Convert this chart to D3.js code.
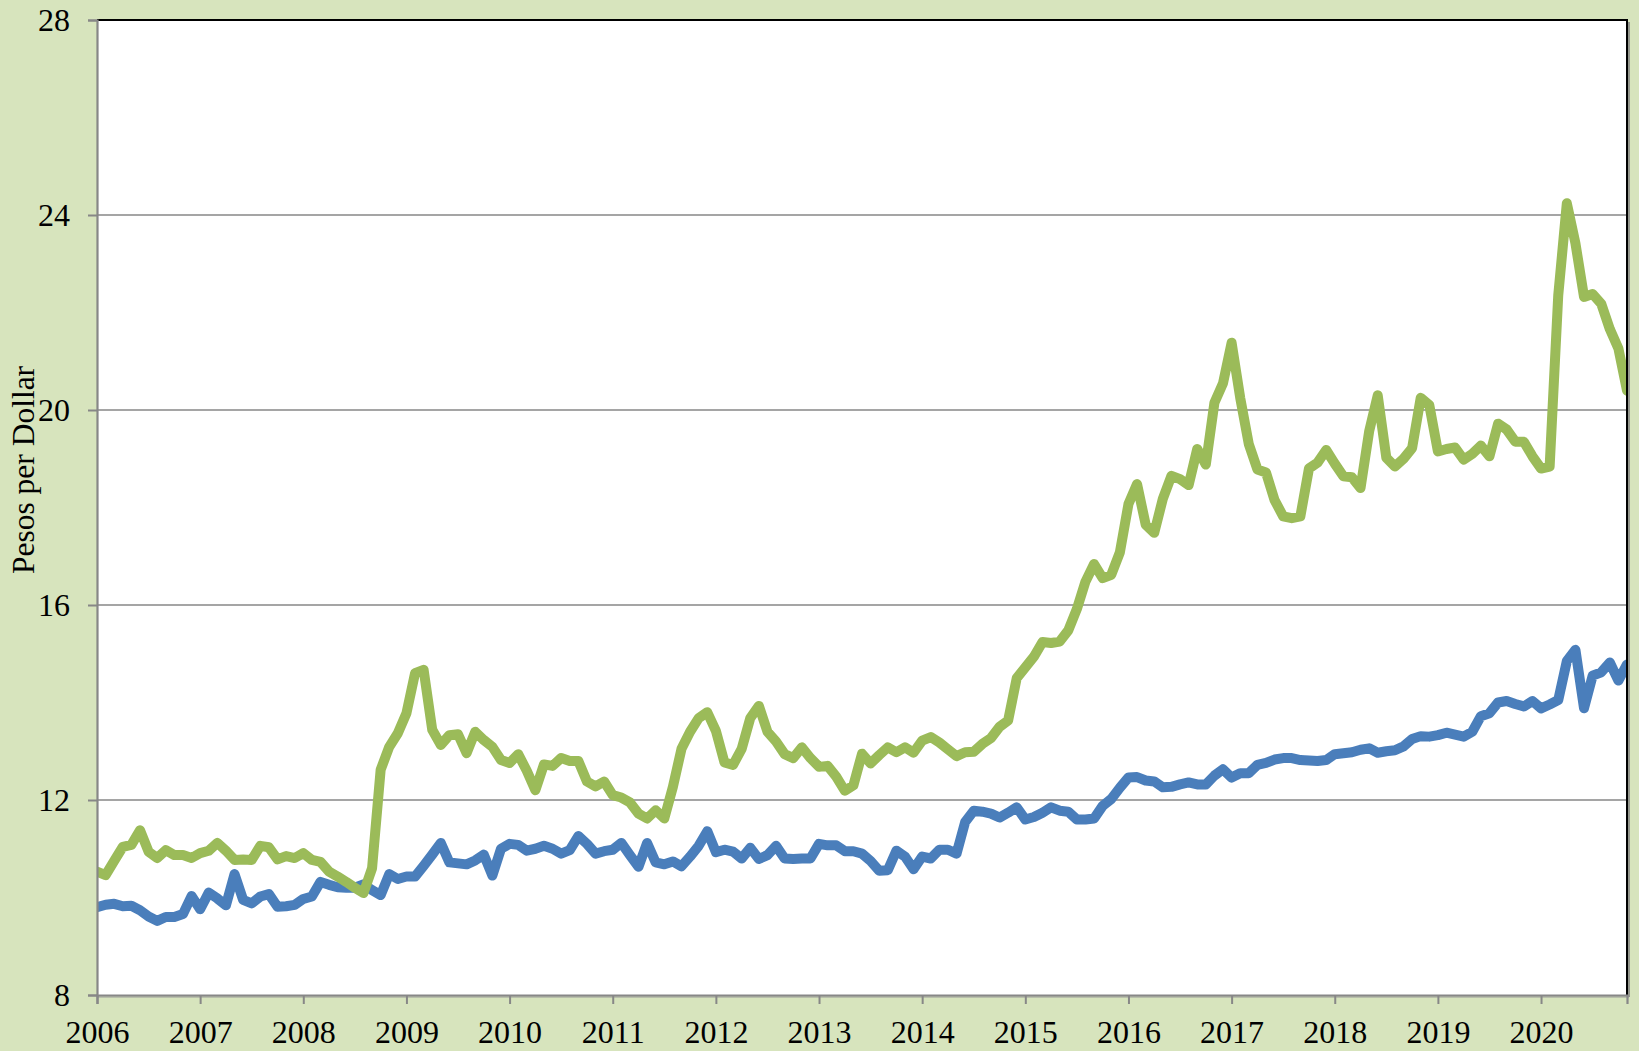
<!DOCTYPE html>
<html>
<head>
<meta charset="utf-8">
<script src="https://cdn.jsdelivr.net/npm/d3@7"></script>
<style>
  html, body { margin: 0; padding: 0; background: #D7E4BD; }
  svg { display: block; }
  text { font-family: "Liberation Serif", "Times New Roman", serif; fill: #000; }
</style>
</head>
<body>
<svg id="chart" width="1639" height="1051"></svg>
<script>
// Monthly data, January 2006 .. November 2020 (index 0 = Jan 2006)
const startYear = 2006;
const yearLabels = ["2006","2007","2008","2009","2010","2011","2012","2013","2014","2015","2016","2017","2018","2019","2020"];
const yTicks = [8, 12, 16, 20, 24, 28];
const yLabel = "Pesos per Dollar";

// green series (pesos per dollar)
const greenSeries = [
  10.53, 10.46, 10.75, 11.04, 11.08, 11.38, 10.94, 10.81, 10.97, 10.87, 10.87, 10.81,
  10.91, 10.96, 11.12, 10.96, 10.77, 10.78, 10.77, 11.06, 11.03, 10.78, 10.85, 10.81,
  10.91, 10.77, 10.73, 10.53, 10.43, 10.32, 10.20, 10.09, 10.60, 12.62, 13.09, 13.37,
  13.78, 14.60, 14.67, 13.44, 13.13, 13.33, 13.35, 12.96, 13.40, 13.23, 13.09, 12.82,
  12.76, 12.94, 12.60, 12.20, 12.73, 12.70, 12.86, 12.80, 12.80, 12.38, 12.28, 12.38,
  12.10, 12.05, 11.95, 11.72, 11.62, 11.79, 11.62, 12.27, 13.05, 13.40, 13.68, 13.80,
  13.42, 12.77, 12.72, 13.05, 13.68, 13.93, 13.40, 13.20, 12.94, 12.86, 13.08, 12.86,
  12.68, 12.70, 12.48, 12.19, 12.30, 12.95, 12.75, 12.92, 13.08, 12.98, 13.08, 12.97,
  13.22, 13.29, 13.18, 13.04, 12.90, 12.98, 12.99, 13.15, 13.27, 13.50, 13.63, 14.50,
  14.72, 14.94, 15.24, 15.22, 15.25, 15.48, 15.92, 16.48, 16.84, 16.55, 16.62, 17.08,
  18.07, 18.48, 17.65, 17.48, 18.18, 18.65, 18.58, 18.46, 19.20, 18.88, 20.15, 20.55,
  21.38, 20.25, 19.30, 18.78, 18.72, 18.15, 17.82, 17.78, 17.82, 18.80, 18.92, 19.18,
  18.90, 18.64, 18.62, 18.40, 19.56, 20.30, 19.02, 18.84, 19.00, 19.22, 20.25, 20.10,
  19.15, 19.20, 19.23, 18.98, 19.10, 19.27, 19.05, 19.72, 19.60, 19.35, 19.35, 19.05,
  18.80, 18.84, 22.35, 24.24, 23.42, 22.32, 22.38, 22.18, 21.66, 21.26, 20.40
];

// blue series (pesos per dollar)
const blueSeries = [
  9.80, 9.85, 9.87, 9.82, 9.83, 9.74, 9.61, 9.52, 9.60, 9.60, 9.66, 10.03,
  9.76, 10.10, 9.98, 9.84, 10.48, 9.95, 9.88, 10.02, 10.07, 9.81, 9.82, 9.85,
  9.97, 10.02, 10.32, 10.26, 10.21, 10.20, 10.20, 10.27, 10.15, 10.05, 10.48, 10.38,
  10.43, 10.43, 10.65, 10.88, 11.12, 10.72, 10.70, 10.68, 10.76, 10.88, 10.45, 11.00,
  11.10, 11.08, 10.96, 11.00, 11.06, 11.00, 10.90, 10.97, 11.26, 11.10, 10.90, 10.95,
  10.98, 11.12, 10.87, 10.63, 11.12, 10.72, 10.68, 10.74, 10.64, 10.84, 11.06, 11.36,
  10.93, 10.98, 10.94, 10.80, 11.02, 10.79, 10.87, 11.06, 10.80, 10.79, 10.80, 10.80,
  11.10, 11.07, 11.07, 10.95, 10.95, 10.90, 10.75, 10.55, 10.56, 10.96, 10.84, 10.58,
  10.84, 10.80, 10.98, 10.98, 10.90, 11.55, 11.78, 11.76, 11.72, 11.64, 11.74, 11.85,
  11.60, 11.65, 11.74, 11.85, 11.78, 11.76, 11.60, 11.60, 11.62, 11.88, 12.02, 12.25,
  12.46, 12.47, 12.40, 12.38, 12.26, 12.27, 12.32, 12.36, 12.32, 12.32, 12.50, 12.63,
  12.46, 12.55, 12.55, 12.72, 12.76, 12.83, 12.86, 12.86, 12.82, 12.81, 12.80, 12.82,
  12.94, 12.96, 12.98, 13.03, 13.06, 12.97, 13.00, 13.02, 13.10, 13.25, 13.31, 13.30,
  13.33, 13.38, 13.34, 13.30, 13.40, 13.72, 13.78, 14.00, 14.03, 13.97, 13.92, 14.03,
  13.88, 13.96, 14.05, 14.85, 15.08, 13.88, 14.55, 14.62, 14.82, 14.45, 14.78
];

const svg = d3.select("#chart");
const plot = { left: 97, right: 1627, top: 20, bottom: 995 };

const x = d3.scaleLinear().domain([0, greenSeries.length - 1]).range([plot.left, plot.right]);
const y = d3.scaleLinear().domain([8, 28]).range([plot.bottom, plot.top]);

const gridColor = "#878787";
const fontFam = "'Liberation Serif', 'Times New Roman', serif";

// plot background
svg.append("rect")
  .attr("x", plot.left).attr("y", plot.top)
  .attr("width", plot.right - plot.left).attr("height", plot.bottom - plot.top)
  .attr("fill", "#ffffff");

// gridlines
svg.append("g")
  .selectAll("line")
  .data(yTicks.filter(t => t > 8 && t < 28))
  .join("line")
  .attr("x1", plot.left).attr("x2", plot.right)
  .attr("y1", d => y(d)).attr("y2", d => y(d))
  .attr("stroke", gridColor).attr("stroke-width", 1.6);

// clip path for lines
svg.append("clipPath").attr("id", "plotClip")
  .append("rect")
  .attr("x", plot.left).attr("y", plot.top)
  .attr("width", plot.right - plot.left).attr("height", plot.bottom - plot.top);

const line = d3.line().x((d, i) => x(i)).y(d => y(d));

const lines = svg.append("g").attr("clip-path", "url(#plotClip)");
lines.append("path")
  .datum(blueSeries)
  .attr("d", line)
  .attr("fill", "none")
  .attr("stroke", "#4A7EBB")
  .attr("stroke-width", 10)
  .attr("stroke-linejoin", "round")
  .attr("stroke-linecap", "round");
lines.append("path")
  .datum(greenSeries)
  .attr("d", line)
  .attr("fill", "none")
  .attr("stroke", "#9BBB59")
  .attr("stroke-width", 10)
  .attr("stroke-linejoin", "round")
  .attr("stroke-linecap", "round");

// plot border (top & right black), with slight shadow
svg.append("line")
  .attr("x1", plot.right + 2).attr("x2", plot.right + 2)
  .attr("y1", plot.top + 2).attr("y2", plot.bottom + 2)
  .attr("stroke", "#7f7f7f").attr("stroke-width", 1.5);
svg.append("line")
  .attr("x1", plot.left).attr("x2", plot.right + 2)
  .attr("y1", plot.bottom + 2).attr("y2", plot.bottom + 2)
  .attr("stroke", "#9a9a9a").attr("stroke-width", 1.2);
svg.append("path")
  .attr("d", `M${plot.left},${plot.top}H${plot.right}V${plot.bottom}`)
  .attr("fill", "none").attr("stroke", "#000").attr("stroke-width", 2);

// y axis
const yAxis = d3.axisLeft(y).tickValues(yTicks).tickSize(9).tickPadding(18).tickFormat(d3.format("d"));
const gy = svg.append("g").attr("transform", `translate(${plot.left},0)`).call(yAxis);
gy.select(".domain").attr("stroke", gridColor).attr("stroke-width", 2.2);
gy.selectAll(".tick line").attr("stroke", gridColor).attr("stroke-width", 2);
gy.selectAll(".tick text")
  .attr("font-size", 32)
  .attr("font-family", fontFam)
  .attr("fill", "#000");

// x axis
const xTickVals = yearLabels.map((_, k) => k * 12);
const xAxis = d3.axisBottom(x).tickValues(xTickVals).tickSize(9).tickPadding(16)
  .tickFormat((d, k) => yearLabels[k]);
const gx = svg.append("g").attr("transform", `translate(0,${plot.bottom})`).call(xAxis);
gx.select(".domain").attr("stroke", gridColor).attr("stroke-width", 2.2);
gx.selectAll(".tick line").attr("stroke", gridColor).attr("stroke-width", 2);
gx.selectAll(".tick text")
  .attr("font-size", 32)
  .attr("font-family", fontFam)
  .attr("fill", "#000");

// y axis title
svg.append("text")
  .attr("transform", "translate(34,470) rotate(-90)")
  .attr("text-anchor", "middle")
  .attr("font-size", 31.5)
  .text(yLabel);
</script>
</body>
</html>
